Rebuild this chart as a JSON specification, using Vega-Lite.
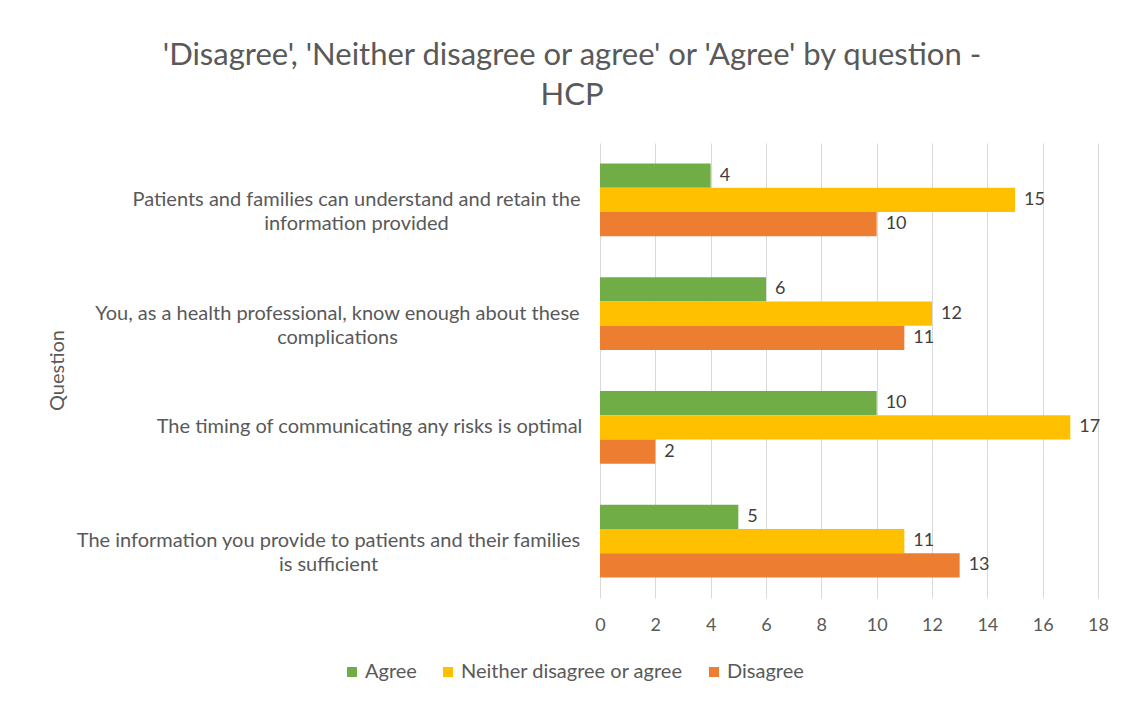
{
  "$schema": "https://vega.github.io/schema/vega-lite/v6.json",
  "autosize": {"type": "none"},
  "width": 498,
  "height": 455,
  "padding": {"left": 600, "top": 143, "right": 26, "bottom": 103},
  "background": "white",
  "title": {
    "text": ["'Disagree', 'Neither disagree or agree' or 'Agree' by question -", "HCP"],
    "font": "Lato",
    "fontSize": 31,
    "fontWeight": "normal",
    "color": "#595959",
    "lineHeight": 40,
    "anchor": "middle",
    "dx": -277,
    "offset": 31
  },
  "data": {
    "values": [
      {"question": "Patients and families can understand and retain the information provided", "response": "Agree", "count": 4},
      {"question": "Patients and families can understand and retain the information provided", "response": "Neither disagree or agree", "count": 15},
      {"question": "Patients and families can understand and retain the information provided", "response": "Disagree", "count": 10},
      {"question": "You, as a health professional, know enough about these complications", "response": "Agree", "count": 6},
      {"question": "You, as a health professional, know enough about these complications", "response": "Neither disagree or agree", "count": 12},
      {"question": "You, as a health professional, know enough about these complications", "response": "Disagree", "count": 11},
      {"question": "The timing of communicating any risks is optimal", "response": "Agree", "count": 10},
      {"question": "The timing of communicating any risks is optimal", "response": "Neither disagree or agree", "count": 17},
      {"question": "The timing of communicating any risks is optimal", "response": "Disagree", "count": 2},
      {"question": "The information you provide to patients and their families is sufficient", "response": "Agree", "count": 5},
      {"question": "The information you provide to patients and their families is sufficient", "response": "Neither disagree or agree", "count": 11},
      {"question": "The information you provide to patients and their families is sufficient", "response": "Disagree", "count": 13}
    ]
  },
  "encoding": {
    "y": {
      "field": "question",
      "type": "nominal",
      "sort": [
        "Patients and families can understand and retain the information provided",
        "You, as a health professional, know enough about these complications",
        "The timing of communicating any risks is optimal",
        "The information you provide to patients and their families is sufficient"
      ],
      "scale": {"paddingInner": 0.36, "paddingOuter": 0.18},
      "axis": {
        "title": "Question",
        "titleFont": "Lato",
        "titleFontSize": 20,
        "titleFontWeight": "normal",
        "titleColor": "#595959",
        "titleX": -543,
        "titleY": 227,
        "titleAngle": 270,
        "titleAlign": "center",
        "titleBaseline": "middle",
        "domain": false,
        "ticks": false,
        "labelFont": "Lato",
        "labelFontSize": 20,
        "labelColor": "#595959",
        "labelLimit": 0,
        "labelAlign": "center",
        "labelBaseline": "middle",
        "labelLineHeight": 24,
        "labelPadding": {
          "condition": [
            {"test": "datum.value === 'Patients and families can understand and retain the information provided'", "value": 244},
            {"test": "datum.value === 'You, as a health professional, know enough about these complications'", "value": 263},
            {"test": "datum.value === 'The timing of communicating any risks is optimal'", "value": 231}
          ],
          "value": 272
        },
        "labelExpr": "datum.value === 'Patients and families can understand and retain the information provided' ? ['Patients and families can understand and retain the', 'information provided'] : datum.value === 'You, as a health professional, know enough about these complications' ? ['You, as a health professional, know enough about these', 'complications'] : datum.value === 'The information you provide to patients and their families is sufficient' ? ['The information you provide to patients and their families', 'is sufficient'] : datum.value"
      }
    },
    "yOffset": {
      "field": "response",
      "type": "nominal",
      "sort": ["Agree", "Neither disagree or agree", "Disagree"],
      "scale": {"paddingInner": 0, "paddingOuter": 0}
    },
    "x": {
      "field": "count",
      "type": "quantitative",
      "scale": {"domain": [0, 18], "nice": false},
      "axis": {
        "title": null,
        "values": [0, 2, 4, 6, 8, 10, 12, 14, 16, 18],
        "domain": false,
        "ticks": false,
        "labelFlush": false,
        "labelFont": "Lato",
        "labelFontSize": 18,
        "labelColor": "#595959",
        "labelPadding": 18,
        "gridColor": "#D9D9D9",
        "gridWidth": 1
      }
    }
  },
  "layer": [
    {
      "mark": {"type": "bar"},
      "encoding": {
        "color": {
          "field": "response",
          "type": "nominal",
          "sort": ["Agree", "Neither disagree or agree", "Disagree"],
          "scale": {
            "domain": ["Agree", "Neither disagree or agree", "Disagree"],
            "range": ["#70AD47", "#FFC000", "#ED7D31"]
          },
          "legend": {
            "title": null,
            "orient": "none",
            "legendX": -258,
            "legendY": 519,
            "direction": "horizontal",
            "symbolType": "square",
            "symbolSize": 100,
            "symbolStrokeWidth": 0,
            "labelFont": "Lato",
            "labelFontSize": 20,
            "labelColor": "#595959",
            "labelOffset": 3,
            "columnPadding": 21,
            "labelLimit": 0,
            "padding": 0
          }
        }
      }
    },
    {
      "mark": {"type": "text", "align": "left", "baseline": "middle", "dx": 9, "font": "Lato", "fontSize": 18, "color": "#404040"},
      "encoding": {
        "text": {"field": "count", "type": "quantitative"}
      }
    }
  ],
  "config": {
    "view": {"stroke": null}
  }
}
